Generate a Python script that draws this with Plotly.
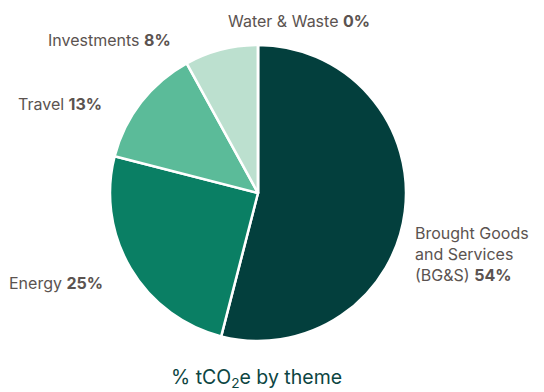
import plotly.graph_objects as go

# Emissions share by theme
themes = ["Brought Goods and Services (BG&S)", "Energy", "Travel", "Investments", "Water & Waste"]
label_lines = [["Brought Goods", "and Services", "(BG&S)"], ["Energy"], ["Travel"], ["Investments"], ["Water & Waste"]]
shares = [54, 25, 13, 8, 0]
colors = ["#033f3d", "#0a7f64", "#5bbb99", "#bce0cf", "#e6f2ec"]

W, H = 544, 392
cx, cy, r = 258, 193, 148

fig = go.Figure(go.Pie(
    labels=themes,
    values=shares,
    sort=False,
    direction="clockwise",
    rotation=0,
    marker=dict(colors=colors, line=dict(color="white", width=2.5)),
    textinfo="none",
    hoverinfo="label+percent",
    showlegend=False,
    domain=dict(x=[(cx - r) / W, (cx + r) / W], y=[(H - cy - r) / H, (H - cy + r) / H]),
))

label_font = dict(family="Inter, sans-serif", size=16, color="#5b5350")

# label anchor positions in pixels (x, y, xanchor)
label_pos = [
    (413, 254, "left"),
    (105, 283, "right"),
    (104, 104, "right"),
    (173, 40, "right"),
    (299, 21, "center"),
]

annotations = []
for lines, val, (px, py, xa) in zip(label_lines, shares, label_pos):
    text = "<br>".join(lines[:-1] + [f"{lines[-1]} <b>{val}%</b>"])
    annotations.append(dict(
        x=px / W, y=1 - py / H, xref="paper", yref="paper",
        text=text, showarrow=False, xanchor=xa, yanchor="middle",
        align="left", font=label_font,
    ))

annotations.append(dict(
    x=256 / W, y=1 - 378 / H, xref="paper", yref="paper",
    text="% tCO<sub>2</sub>e by theme", showarrow=False,
    xanchor="center", yanchor="middle",
    font=dict(family="Inter, sans-serif", size=19.5, color="#0c4542"),
))

fig.update_layout(
    width=W, height=H,
    margin=dict(l=0, r=0, t=0, b=0),
    paper_bgcolor="white",
    plot_bgcolor="white",
    annotations=annotations,
)

fig.write_html("out.html")
